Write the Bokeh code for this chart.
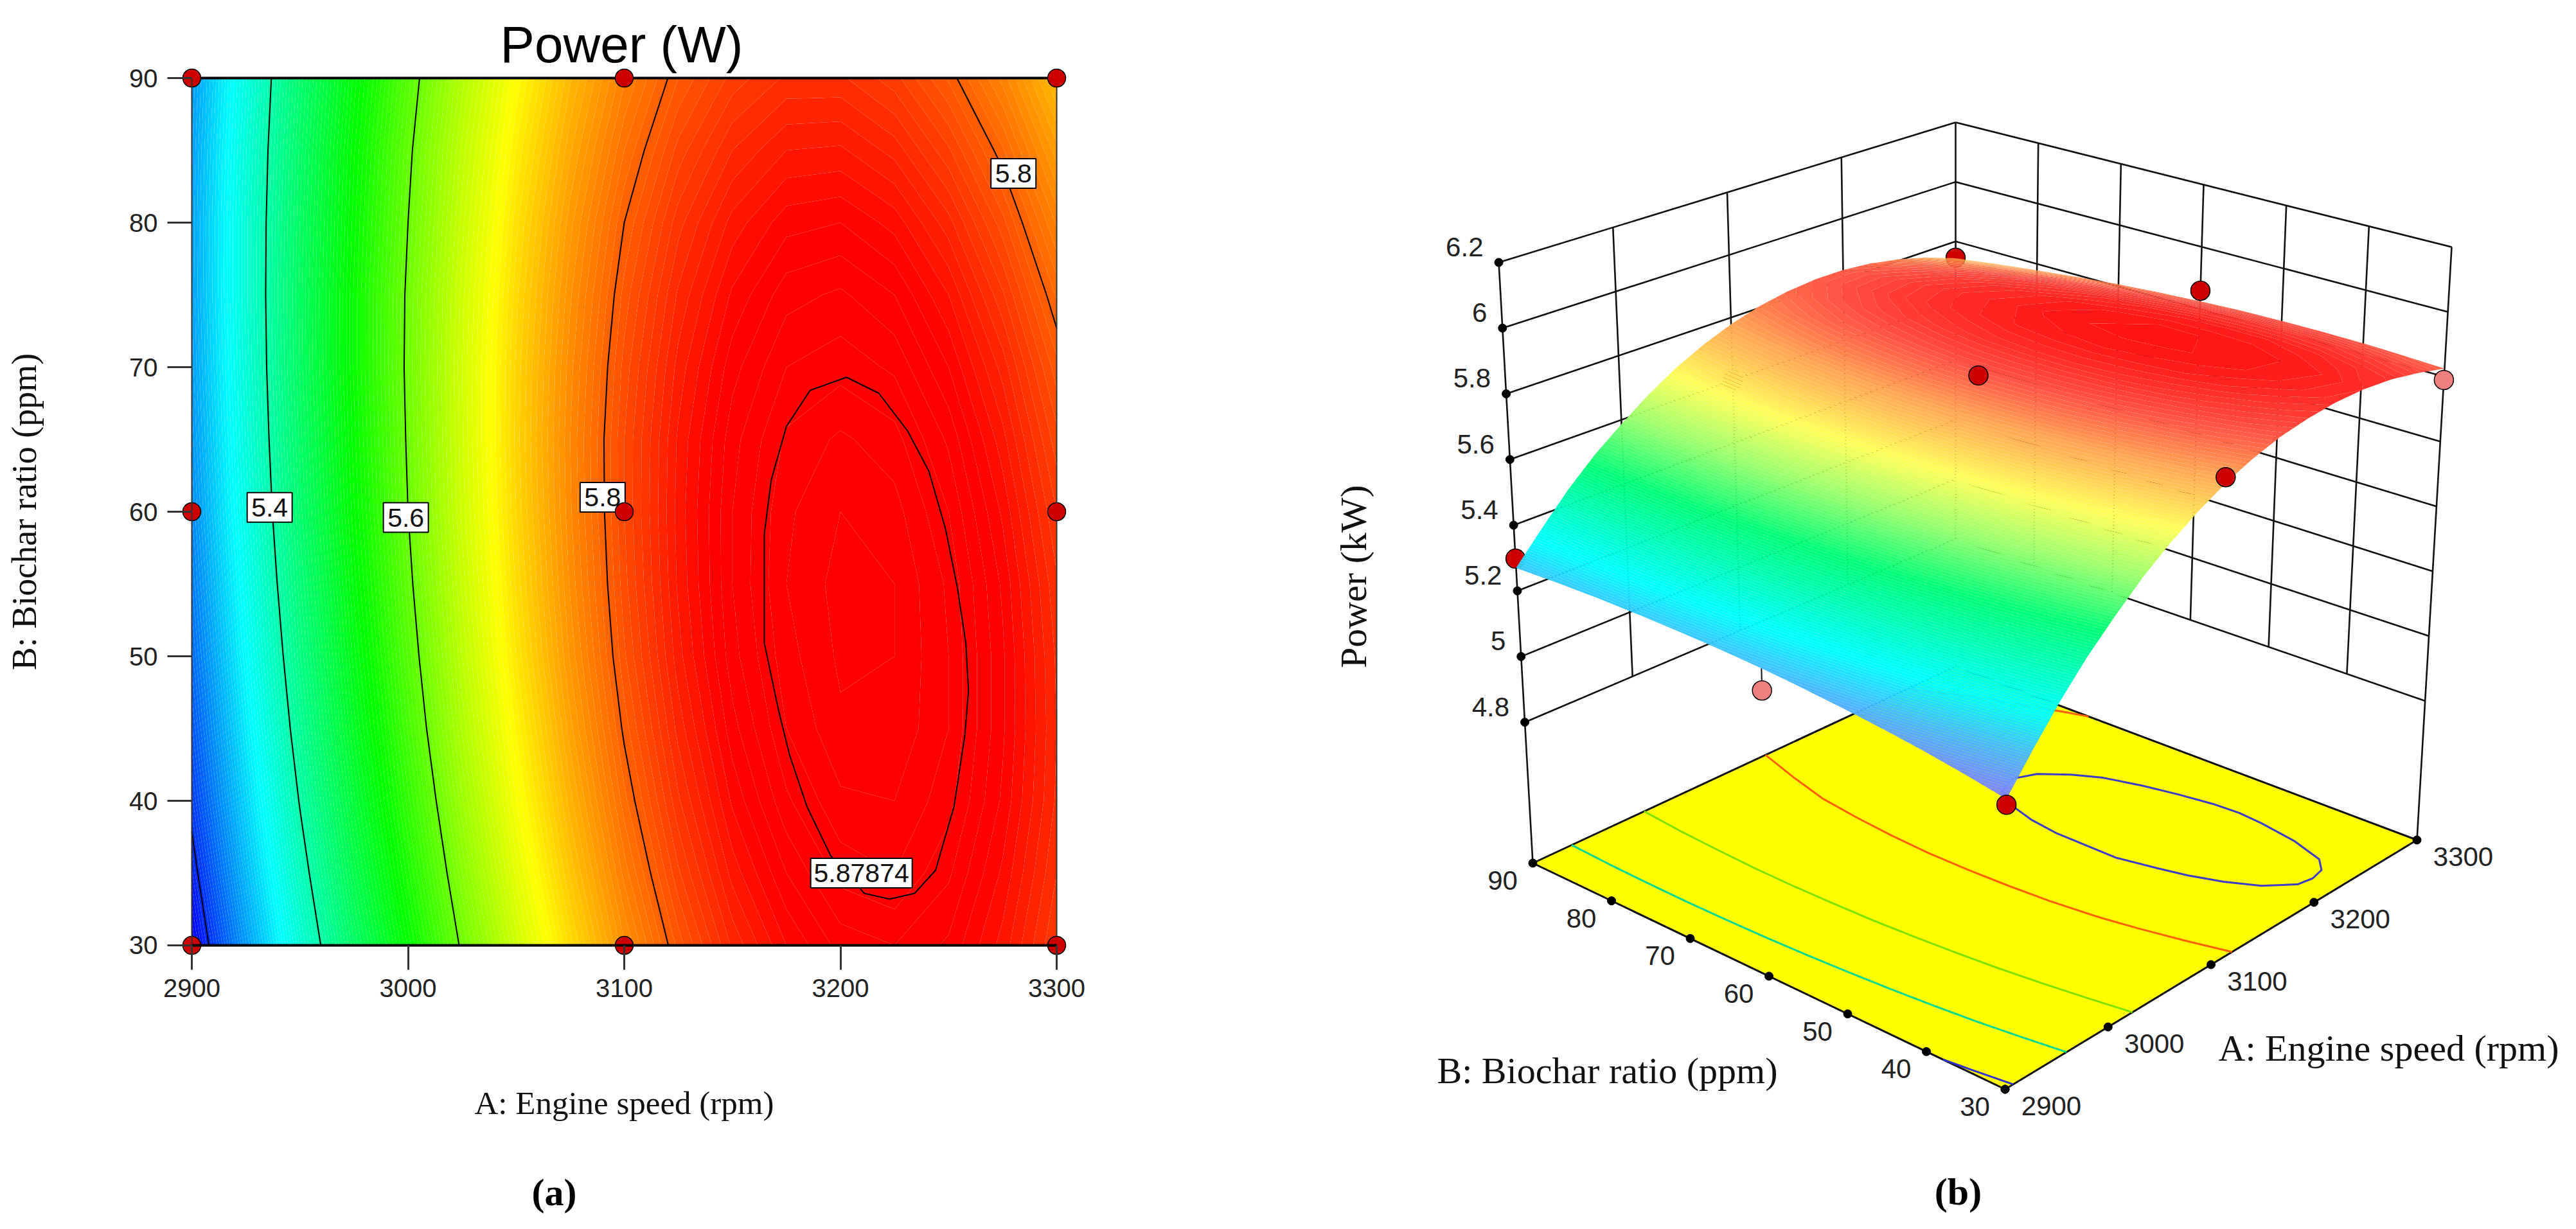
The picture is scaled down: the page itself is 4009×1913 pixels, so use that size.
import numpy as np
from bokeh.core.properties import value
from bokeh.embed import file_html
from bokeh.layouts import row
from bokeh.models import FixedTicker, Range1d
from bokeh.plotting import figure
from bokeh.resources import INLINE

# ---------- values ----------
speed_grid = [2900, 2925, 2950, 2975, 3000, 3025, 3050, 3075, 3100, 3125, 3150, 3175, 3200, 3225, 3250, 3275, 3300]
ratio_grid = [30, 35, 40, 45, 50, 55, 60, 65, 70, 75, 80, 85, 90]
power_b30 = [5.168, 5.269, 5.366, 5.454, 5.531, 5.604, 5.667, 5.722, 5.769, 5.807, 5.836, 5.855, 5.867, 5.870, 5.864, 5.848, 5.825]
power_b35 = [5.189, 5.289, 5.385, 5.472, 5.548, 5.620, 5.682, 5.736, 5.782, 5.819, 5.847, 5.865, 5.877, 5.880, 5.871, 5.854, 5.830]
power_b40 = [5.208, 5.307, 5.402, 5.488, 5.563, 5.634, 5.695, 5.748, 5.793, 5.829, 5.856, 5.874, 5.884, 5.885, 5.877, 5.859, 5.834]
power_b45 = [5.224, 5.322, 5.417, 5.502, 5.576, 5.646, 5.706, 5.758, 5.802, 5.837, 5.863, 5.880, 5.889, 5.889, 5.880, 5.861, 5.835]
power_b50 = [5.238, 5.335, 5.429, 5.513, 5.586, 5.655, 5.715, 5.766, 5.809, 5.843, 5.868, 5.883, 5.891, 5.890, 5.880, 5.861, 5.834]
power_b55 = [5.250, 5.346, 5.439, 5.522, 5.594, 5.662, 5.721, 5.771, 5.813, 5.846, 5.870, 5.885, 5.892, 5.890, 5.879, 5.859, 5.831]
power_b60 = [5.260, 5.355, 5.447, 5.529, 5.600, 5.667, 5.725, 5.774, 5.815, 5.847, 5.870, 5.884, 5.890, 5.887, 5.875, 5.854, 5.825]
power_b65 = [5.267, 5.361, 5.452, 5.533, 5.603, 5.669, 5.727, 5.775, 5.815, 5.846, 5.868, 5.881, 5.886, 5.882, 5.869, 5.847, 5.817]
power_b70 = [5.272, 5.365, 5.456, 5.536, 5.605, 5.670, 5.726, 5.773, 5.812, 5.842, 5.863, 5.875, 5.878, 5.874, 5.860, 5.838, 5.807]
power_b75 = [5.275, 5.367, 5.457, 5.536, 5.604, 5.668, 5.723, 5.769, 5.807, 5.836, 5.856, 5.868, 5.871, 5.865, 5.850, 5.826, 5.794]
power_b80 = [5.276, 5.367, 5.455, 5.533, 5.600, 5.663, 5.718, 5.763, 5.800, 5.828, 5.847, 5.858, 5.860, 5.853, 5.837, 5.812, 5.779]
power_b85 = [5.274, 5.364, 5.452, 5.529, 5.595, 5.657, 5.710, 5.754, 5.790, 5.817, 5.835, 5.845, 5.846, 5.838, 5.821, 5.796, 5.762]
power_b90 = [5.270, 5.359, 5.446, 5.522, 5.587, 5.648, 5.701, 5.744, 5.779, 5.805, 5.822, 5.831, 5.831, 5.822, 5.804, 5.778, 5.743]

design_speed = [2900, 2900, 2900, 3100, 3100, 3100, 3300, 3300, 3300]
design_ratio = [30, 60, 90, 30, 60, 90, 30, 60, 90]
design_power = [5.152, 5.196, 5.298, 5.787, 5.860, 5.600, 5.790, 5.859, 5.745]

contour_levels = [5.2, 5.4, 5.6, 5.8]
# the closed 5.87874 contour, read point by point
peak_speed = [3202.8, 3186.0, 3175.0, 3168.0, 3164.8, 3164.8, 3171.3, 3176.4, 3184.5, 3195.5, 3211.0, 3222.7,
              3234.3, 3244.0, 3252.5, 3257.5, 3259.2, 3258.0, 3254.0, 3248.6, 3240.9, 3231.0, 3217.7, 3202.8]
peak_ratio = [69.3, 68.4, 65.9, 62.2, 58.5, 50.9, 46.3, 43.2, 39.6, 36.2, 33.6, 33.2,
              33.6, 35.2, 39.6, 44.5, 47.6, 50.9, 54.8, 58.8, 62.8, 65.6, 68.2, 69.3]
contour_label_text = ["5.4", "5.6", "5.8", "5.8", "5.87874"]
contour_label_speed = [2936, 2999, 3090, 3280, 3209.7]
contour_label_ratio = [60.3, 59.6, 61.0, 83.4, 35.0]

speed_ticks = [2900, 3000, 3100, 3200, 3300]
ratio_ticks = [30, 40, 50, 60, 70, 80, 90]
power_ticks = [4.8, 5.0, 5.2, 5.4, 5.6, 5.8, 6.0, 6.2]
power_tick_labels = ["4.8", "5", "5.2", "5.4", "5.6", "5.8", "6", "6.2"]

# ---------- colour ramps ----------
SANS = value("Liberation Sans")
SERIF = value("Liberation Serif")


def ramp(stops, levels):
    mids = (levels[:-1] + levels[1:]) / 2
    zs = [s[0] for s in stops]
    rgb = [np.interp(mids, zs, [s[c] for s in stops]).round().astype(int) for c in (1, 2, 3)]
    return ["#%02x%02x%02x" % (r, g, b) for r, g, b in zip(*rgb)]


fill_levels = np.linspace(5.15, 5.90, 151)
flat_colors = ramp([(5.17, 0, 0, 255), (5.335, 0, 255, 255), (5.53, 0, 255, 0), (5.70, 255, 255, 0),
                    (5.86, 255, 0, 0), (5.90, 255, 0, 0)], fill_levels)
lit_colors = ramp([(5.17, 130, 130, 255), (5.26, 70, 190, 255), (5.335, 0, 255, 255), (5.50, 0, 255, 120),
                   (5.60, 150, 255, 110), (5.69, 255, 255, 90), (5.78, 255, 165, 85), (5.84, 255, 80, 70),
                   (5.89, 255, 20, 20)], fill_levels)

power_grid = np.array([power_b30, power_b35, power_b40, power_b45, power_b50, power_b55, power_b60,
                       power_b65, power_b70, power_b75, power_b80, power_b85, power_b90])
speeds = np.array(speed_grid, dtype=float)
ratios = np.array(ratio_grid, dtype=float)


def seamless(renderer):
    g = renderer.fill_renderer.glyph
    g.line_color = g.fill_color
    g.line_width = 1.5


# ---------- panel (a): contour map ----------
pa = figure(width=2000, height=1905, x_range=Range1d(2811.44, 3405.79), y_range=Range1d(10.711, 95.378),
            output_backend="svg", toolbar_location=None, tools="", min_border=0, outline_line_color=None)
pa.grid.visible = False

seamless(pa.contour(speeds, ratios, power_grid, fill_levels, fill_color=flat_colors))
pa.contour(speeds, ratios, power_grid, contour_levels, line_color="black", line_width=2)
pa.line(peak_speed, peak_ratio, line_color="black", line_width=2)
pa.line([2900, 3300], [90, 90], line_color="black", line_width=4)
pa.line([3300, 3300], [30, 90], line_color="#333333", line_width=2)

for axis, bounds in ((pa.xaxis[0], (2900, 3300)), (pa.yaxis[0], (30, 90))):
    axis.bounds = bounds
    axis.major_tick_in = 0
    axis.major_tick_out = 38
    axis.major_tick_line_width = 3
    axis.major_tick_line_color = "#333333"
    axis.minor_tick_line_color = None
    axis.major_label_standoff = 15
    axis.major_label_text_font = "Liberation Sans"
    axis.major_label_text_font_size = "40px"
    axis.major_label_text_color = "#222222"
    axis.axis_label_text_font = "Liberation Serif"
    axis.axis_label_text_font_style = "normal"
    axis.axis_label_text_color = "#111111"
pa.xaxis[0].fixed_location = 30
pa.xaxis[0].axis_line_width = 4
pa.xaxis[0].axis_line_color = "black"
pa.xaxis[0].ticker = FixedTicker(ticks=speed_ticks)
pa.xaxis[0].axis_label = "A: Engine speed (rpm)"
pa.xaxis[0].axis_label_text_font_size = "51px"
pa.xaxis[0].axis_label_standoff = 133
pa.yaxis[0].fixed_location = 2900
pa.yaxis[0].axis_line_width = 2
pa.yaxis[0].axis_line_color = "#333333"
pa.yaxis[0].ticker = FixedTicker(ticks=ratio_ticks)
pa.yaxis[0].axis_label = "B: Biochar ratio (ppm)"
pa.yaxis[0].axis_label_text_font_size = "54px"
pa.yaxis[0].axis_label_standoff = 130

pa.rect(contour_label_speed, contour_label_ratio,
        width=[70, 70, 70, 70, 158], height=46, width_units="screen", height_units="screen",
        fill_color="white", line_color="black", line_width=2)
pa.text(contour_label_speed, contour_label_ratio, text=contour_label_text, text_font=SANS,
        text_font_size="41px", text_align="center", text_baseline="middle", text_color="#111111")
pa.scatter(design_speed, design_ratio, size=28, fill_color="#cc0000", line_color="black", line_width=1.5)
pa.text([3098.8], [92.31], text=["Power (W)"], text_font=SANS, text_font_size="80px",
        text_align="center", text_baseline="middle", text_color="black")
pa.text([3067.6], [12.93], text=["(a)"], text_font=SERIF, text_font_size="60px", text_font_style="bold",
        text_align="center", text_baseline="middle", text_color="black")

# ---------- panel (b): response surface drawn through a box projection ----------
FLOOR_Z, TOP_Z = 4.371, 6.2
# box corners on the drawing plane: near, right, left, back
FLOOR_X, FLOOR_Y = (3120, 3761, 2385, 3043), (1695, 1307, 1343, 1037)
ROOF_X, ROOF_Y = (3125, 3815, 2332, 3043), (658, 384, 408, 190)


def proj(speed, ratio, power):
    u = (np.asarray(speed, dtype=float) - 2900) / 400
    v = (np.asarray(ratio, dtype=float) - 30) / 60
    t = (np.asarray(power, dtype=float) - FLOOR_Z) / (TOP_Z - FLOOR_Z)
    w = ((1 - u) * (1 - v), u * (1 - v), (1 - u) * v, u * v)
    blend = lambda c: sum(wi * ci for wi, ci in zip(w, c))
    return (1 - t) * blend(FLOOR_X) + t * blend(ROOF_X), (1 - t) * blend(FLOOR_Y) + t * blend(ROOF_Y)


pb = figure(width=2000, height=1905, x_range=Range1d(2000, 4000), y_range=Range1d(1905, 0),
            output_backend="svg", toolbar_location=None, tools="", min_border=0, outline_line_color=None,
            x_axis_location=None, y_axis_location=None)
pb.grid.visible = False

wall_x, wall_y = [], []


def wall(a0, b0, z0, a1, b1, z1):
    x0, y0 = proj(a0, b0, z0)
    x1, y1 = proj(a1, b1, z1)
    wall_x.append([float(x0), float(x1)])
    wall_y.append([float(y0), float(y1)])


for z in power_ticks:
    wall(2900, 90, z, 3300, 90, z)
    wall(3300, 90, z, 3300, 30, z)
for a in speed_ticks[1:-1]:
    wall(a, 90, 6.2, a, 90, 4.8)
for b in ratio_ticks[1:-1]:
    wall(3300, b, 6.2, 3300, b, 4.8)
wall(3300, 90, 6.2, 3300, 90, 4.8)
wall(2900, 90, 6.2, 2900, 90, FLOOR_Z)
wall(3300, 30, 6.2, 3300, 30, FLOOR_Z)
pb.multi_line(wall_x, wall_y, line_color="#111111", line_width=2.6)

# points behind the surface, with the stem of the one below it
behind = [2, 1, 5, 7, 8]
front = [0, 3, 4, 6]
design_colors = ["#cc0000", "#f08080", "#cc0000", "#cc0000", "#cc0000", "#cc0000", "#f08080", "#cc0000", "#cc0000"]
sx0, sy0 = proj(2900, 60, design_power[1])
sx1, sy1 = proj(2900, 60, power_grid[ratio_grid.index(60), speed_grid.index(2900)])
pb.line([float(sx0), float(sx1)], [float(sy0), float(sy1)], line_color="#111111", line_width=2)

dx, dy = proj(design_speed, design_ratio, design_power)
pb.scatter(dx[behind], dy[behind], size=30, fill_color=[design_colors[i] for i in behind],
           line_color="black", line_width=1.5)

# floor with its contour lines
fx, fy = proj([2900, 3300, 3300, 2900], [30, 30, 90, 90], [FLOOR_Z] * 4)
pb.patch(fx, fy, fill_color="#ffff00", line_color="#111111", line_width=3)
AA, BB = np.meshgrid(speeds, ratios)
gx, gy = proj(AA, BB, np.full(AA.shape, FLOOR_Z))
pb.contour(gx, gy, power_grid, contour_levels,
           line_color=["#3030d0", "#00d890", "#80e000", "#ff6000"], line_width=3)
ex, ey = proj(peak_speed, peak_ratio, [FLOOR_Z] * len(peak_speed))
pb.line(ex, ey, line_color="#3c3cc8", line_width=3)

# the surface
sx, sy = proj(AA, BB, power_grid)
seamless(pb.contour(sx, sy, power_grid, fill_levels, fill_color=lit_colors))

pb.scatter(dx[front], dy[front], size=30, fill_color=[design_colors[i] for i in front],
           line_color="black", line_width=1.5)

# axis ticks and labels of the box
zx, zy = proj([2900] * len(power_ticks), [90] * len(power_ticks), power_ticks)
ax, ay = proj(speed_ticks, [30] * len(speed_ticks), [FLOOR_Z] * len(speed_ticks))
bx, by = proj([2900] * len(ratio_ticks), ratio_ticks, [FLOOR_Z] * len(ratio_ticks))
for tx, ty in ((zx, zy), (ax, ay), (bx, by)):
    pb.scatter(tx, ty, size=13, fill_color="black", line_color="black")
pb.text(zx, zy, text=power_tick_labels, x_offset=-24, y_offset=-24, text_font=SANS, text_font_size="42px",
        text_align="right", text_baseline="middle", text_color="#222222")
pb.text(ax, ay, text=[str(s) for s in speed_ticks], x_offset=72, y_offset=26, text_font=SANS,
        text_font_size="42px", text_align="center", text_baseline="middle", text_color="#222222")
pb.text(bx, by, text=[str(r) for r in ratio_ticks], x_offset=-47, y_offset=27, text_font=SANS,
        text_font_size="42px", text_align="center", text_baseline="middle", text_color="#222222")

pb.text([2501], [1666], text=["B: Biochar ratio (ppm)"], text_font=SERIF, text_font_size="58px",
        text_align="center", text_baseline="middle", text_color="#111111")
pb.text([3717], [1631], text=["A: Engine speed (rpm)"], text_font=SERIF, text_font_size="58px",
        text_align="center", text_baseline="middle", text_color="#111111")
pb.text([2106], [897], text=["Power (kW)"], angle=np.pi / 2, text_font=SERIF, text_font_size="58px",
        text_align="center", text_baseline="middle", text_color="#111111")
pb.text([3047], [1854], text=["(b)"], text_font=SERIF, text_font_size="60px", text_font_style="bold",
        text_align="center", text_baseline="middle", text_color="black")

page = row(pa, pb, spacing=0)
open("out.html", "w").write(file_html(page, INLINE))
